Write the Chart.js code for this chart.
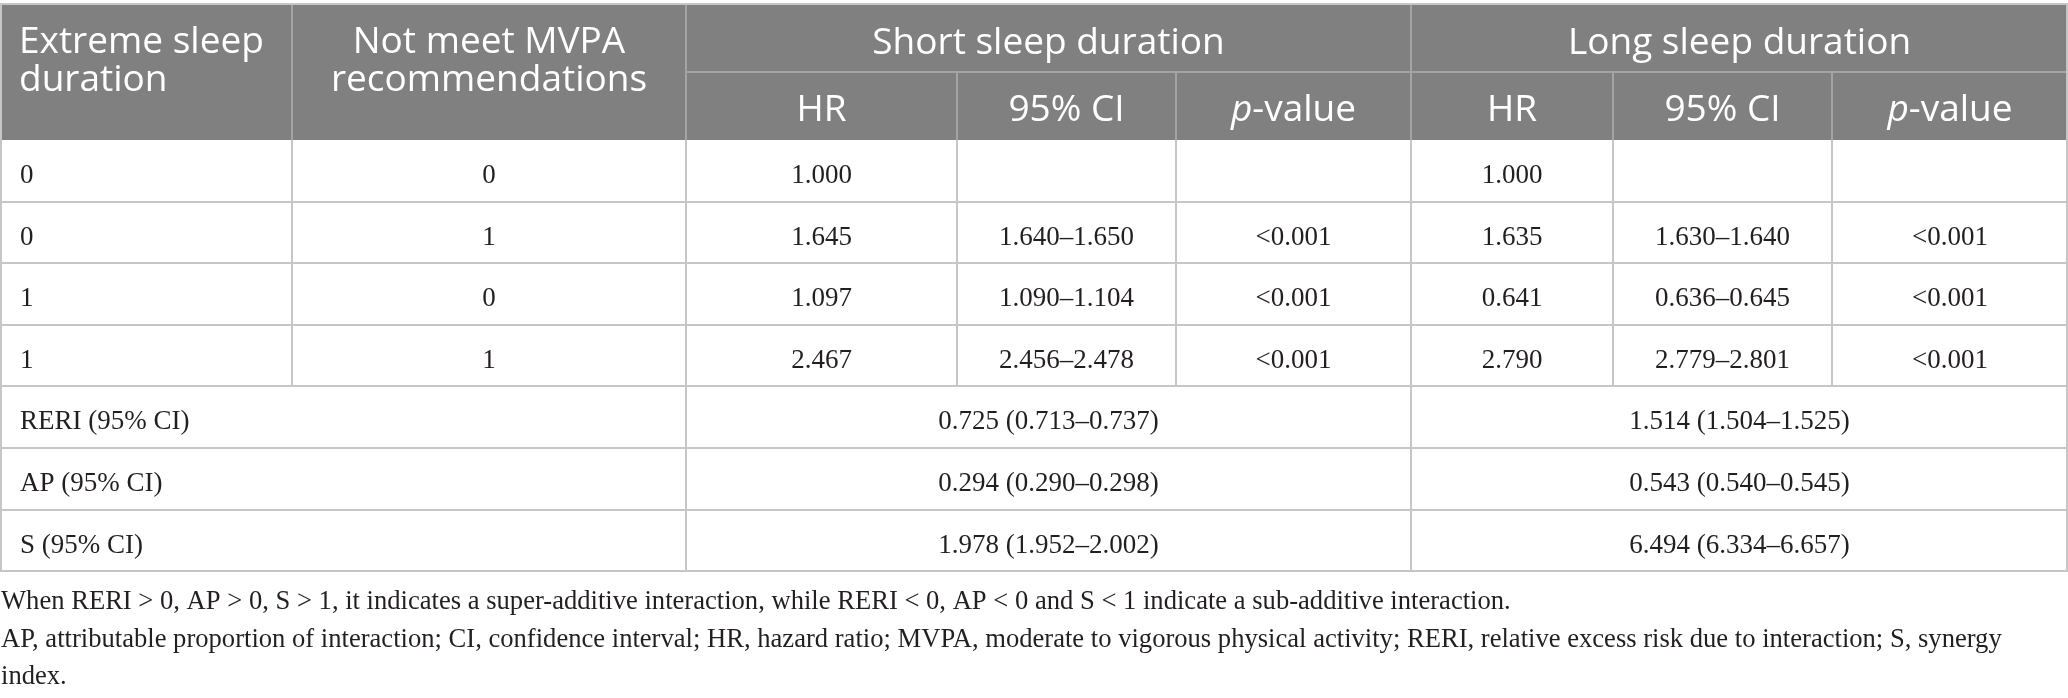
<html>
<head>
<script src="https://cdn.jsdelivr.net/npm/chart.js"></script>
<style>
  body { margin: 0; background: #fff; }
  canvas { display: block; }
</style>
<script>

// table content
const groups = ['Short sleep duration', 'Long sleep duration'];
const subHeaders = ['HR', '95% CI', '-value'];
const rowHeaders = [['Extreme sleep', 'duration'], ['Not meet MVPA', 'recommendations']];

const sleepFlag = ['0', '0', '1', '1'];
const mvpaFlag = ['0', '1', '0', '1'];

const shortHR = ['1.000', '1.645', '1.097', '2.467'];
const shortCI = ['', '1.640–1.650', '1.090–1.104', '2.456–2.478'];
const shortP = ['', '<0.001', '<0.001', '<0.001'];

const longHR = ['1.000', '1.635', '0.641', '2.790'];
const longCI = ['', '1.630–1.640', '0.636–0.645', '2.779–2.801'];
const longP = ['', '<0.001', '<0.001', '<0.001'];

const measures = ['RERI (95% CI)', 'AP (95% CI)', 'S (95% CI)'];
const shortMeasures = ['0.725 (0.713–0.737)', '0.294 (0.290–0.298)', '1.978 (1.952–2.002)'];
const longMeasures = ['1.514 (1.504–1.525)', '0.543 (0.540–0.545)', '6.494 (6.334–6.657)'];

const notes = [
  'When RERI > 0, AP > 0, S > 1, it indicates a super-additive interaction, while RERI < 0, AP < 0 and S < 1 indicate a sub-additive interaction.',
  'AP, attributable proportion of interaction; CI, confidence interval; HR, hazard ratio; MVPA, moderate to vigorous physical activity; RERI, relative excess risk due to interaction; S, synergy',
  'index.'
];

</script>
</head>
<body>
<canvas id="tbl" width="2068" height="698"></canvas>

<script>
// layout (in scale units = px)
const colEdges = [0, 292, 686, 957, 1176, 1411, 1613, 1832, 2068];
const rowEdges = [5, 72, 140, 202, 263, 325, 386, 448, 510, 571];
const noteY = [602, 640, 677];

const HEAD_BG = '#808080';
const HEAD_LINE = '#a4a4a4';
const BODY_LINE = '#c6c6c6';
const TEXT = '#231f20';
const HEAD_FONT = '"Open Sans"';
const BODY_FONT = '"Liberation Serif"';

const tablePlugin = {
  id: 'table',
  afterDraw(chart) {
    const ctx = chart.ctx;
    const xs = chart.scales.x, ys = chart.scales.y;
    const X = v => xs.getPixelForValue(v);
    const Y = v => ys.getPixelForValue(v);
    const cx = (a, b) => (X(colEdges[a]) + X(colEdges[b])) / 2;
    const cy = (a, b) => (Y(rowEdges[a]) + Y(rowEdges[b])) / 2;

    function hline(x0, x1, y, color) {
      ctx.strokeStyle = color; ctx.lineWidth = 2;
      ctx.beginPath(); ctx.moveTo(X(x0), Y(y)); ctx.lineTo(X(x1), Y(y)); ctx.stroke();
    }
    function vline(x, y0, y1, color) {
      ctx.strokeStyle = color; ctx.lineWidth = 2;
      ctx.beginPath(); ctx.moveTo(X(x), Y(y0)); ctx.lineTo(X(x), Y(y1)); ctx.stroke();
    }
    function text(str, x, y, align, font, color) {
      ctx.font = font; ctx.fillStyle = color;
      ctx.textAlign = align; ctx.textBaseline = 'middle';
      ctx.fillText(str, x, y);
    }

    ctx.save();

    // header background
    ctx.fillStyle = HEAD_BG;
    ctx.fillRect(X(0), Y(rowEdges[0]), X(2068) - X(0), Y(rowEdges[2]) - Y(rowEdges[0]));
    hline(0, 2068, rowEdges[0] - 1, BODY_LINE);

    // header lines
    hline(colEdges[2], colEdges[8], rowEdges[1], HEAD_LINE);
    vline(colEdges[1], rowEdges[0], rowEdges[2], HEAD_LINE);
    vline(colEdges[2], rowEdges[0], rowEdges[2], HEAD_LINE);
    vline(colEdges[5], rowEdges[0], rowEdges[2], HEAD_LINE);
    [3, 4, 6, 7].forEach(c => vline(colEdges[c], rowEdges[1], rowEdges[2], HEAD_LINE));

    // header text
    const hf = '37px ' + HEAD_FONT;
    text(rowHeaders[0][0], X(19), Y(42), 'left', hf, '#fff');
    text(rowHeaders[0][1], X(19), Y(80), 'left', hf, '#fff');
    text(rowHeaders[1][0], cx(1, 2), Y(42), 'center', hf, '#fff');
    text(rowHeaders[1][1], cx(1, 2), Y(80), 'center', hf, '#fff');
    text(groups[0], cx(2, 5), cy(0, 1) + 5, 'center', hf, '#fff');
    text(groups[1], cx(5, 8), cy(0, 1) + 5, 'center', hf, '#fff');
    [2, 5].forEach(start => {
      for (let k = 0; k < 3; k++) {
        const x = cx(start + k, start + k + 1), y = cy(1, 2) + 4;
        if (k < 2) {
          text(subHeaders[k], x, y, 'center', hf, '#fff');
        } else {
          ctx.font = 'italic ' + hf; const wp = ctx.measureText('p').width;
          ctx.font = hf; const wv = ctx.measureText(subHeaders[k]).width;
          const left = x - (wp + wv) / 2;
          text('p', left, y, 'left', 'italic ' + hf, '#fff');
          text(subHeaders[k], left + wp, y, 'left', hf, '#fff');
        }
      }
    });

    // body rows
    const bf = '27px ' + BODY_FONT;
    const cols = [shortHR, shortCI, shortP, longHR, longCI, longP];
    for (let r = 0; r < sleepFlag.length; r++) {
      const y = cy(2 + r, 3 + r) + 5;
      text(sleepFlag[r], X(20), y, 'left', bf, TEXT);
      text(mvpaFlag[r], cx(1, 2), y, 'center', bf, TEXT);
      cols.forEach((arr, k) => {
        const c = k < 3 ? 2 + k : 5 + (k - 3);
        text(arr[r], cx(c, c + 1), y, 'center', bf, TEXT);
      });
    }
    for (let r = 0; r < measures.length; r++) {
      const i = 6 + r;
      const y = cy(i, i + 1) + 5;
      text(measures[r], X(20), y, 'left', bf, TEXT);
      text(shortMeasures[r], cx(2, 5), y, 'center', bf, TEXT);
      text(longMeasures[r], cx(5, 8), y, 'center', bf, TEXT);
    }

    // body grid
    for (let i = 3; i < rowEdges.length; i++) hline(0, 2068, rowEdges[i], BODY_LINE);
    vline(1, rowEdges[0], rowEdges[9], BODY_LINE);
    vline(2067, rowEdges[0], rowEdges[9], BODY_LINE);
    vline(colEdges[1], rowEdges[2], rowEdges[6], BODY_LINE);
    [2, 5].forEach(c => vline(colEdges[c], rowEdges[2], rowEdges[9], BODY_LINE));
    [3, 4, 6, 7].forEach(c => vline(colEdges[c], rowEdges[2], rowEdges[6], BODY_LINE));

    // notes
    notes.forEach((n, i) => text(n, X(1), Y(noteY[i]), 'left', '26.6px ' + BODY_FONT, TEXT));

    ctx.restore();
  }
};

new Chart(document.getElementById('tbl'), {
  type: 'scatter',
  data: { datasets: [] },
  options: {
    responsive: false,
    animation: false,
    devicePixelRatio: 1,
    events: [],
    layout: { padding: 0 },
    plugins: { legend: { display: false }, tooltip: { enabled: false } },
    scales: {
      x: { type: 'linear', min: 0, max: 2068, display: false },
      y: { type: 'linear', min: 0, max: 698, reverse: true, display: false }
    }
  },
  plugins: [tablePlugin]
});
</script>
</body>
</html>
